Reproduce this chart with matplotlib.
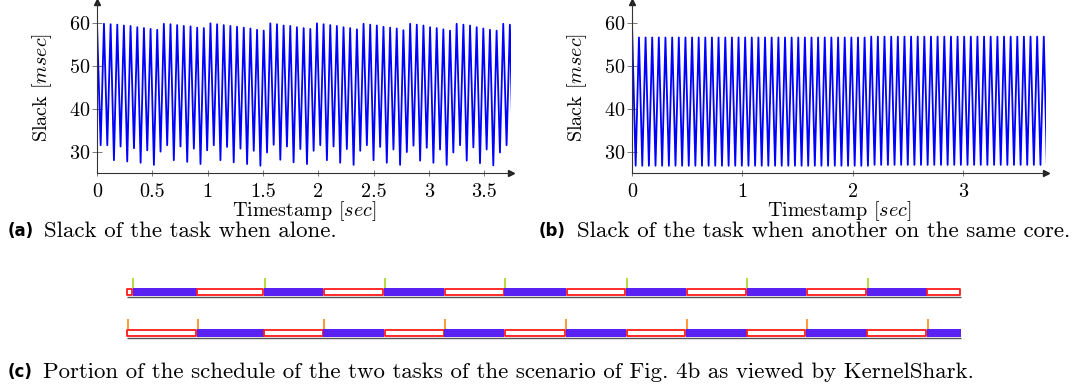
import numpy as np
import matplotlib
matplotlib.use("Agg")
import matplotlib.pyplot as plt

plt.rcParams["font.family"] = "cmr10"
plt.rcParams["mathtext.fontset"] = "cm"
plt.rcParams["axes.formatter.use_mathtext"] = True

W, H = 1073, 391

# Timestamps [sec] of the slack samples (high = job start, low = in between)
t_high = [0.063, 0.123, 0.183, 0.243, 0.303, 0.364, 0.424, 0.484, 0.544, 0.604,
          0.664, 0.724, 0.784, 0.845, 0.905, 0.965, 1.025, 1.085, 1.145, 1.205,
          1.265, 1.326, 1.386, 1.446, 1.506, 1.566, 1.626, 1.686, 1.746, 1.806,
          1.867, 1.927, 1.987, 2.047, 2.107, 2.167, 2.227, 2.287, 2.348, 2.408,
          2.468, 2.528, 2.588, 2.648, 2.708, 2.768, 2.829, 2.889, 2.949, 3.009,
          3.069, 3.129, 3.189, 3.249, 3.310, 3.370, 3.430, 3.490, 3.550, 3.610,
          3.670, 3.730]
t_low = [0.033, 0.093, 0.153, 0.213, 0.273, 0.334, 0.394, 0.454, 0.514, 0.574,
         0.634, 0.694, 0.754, 0.815, 0.875, 0.935, 0.995, 1.055, 1.115, 1.175,
         1.235, 1.296, 1.356, 1.416, 1.476, 1.536, 1.596, 1.656, 1.716, 1.776,
         1.837, 1.897, 1.957, 2.017, 2.077, 2.137, 2.197, 2.257, 2.318, 2.378,
         2.438, 2.498, 2.558, 2.618, 2.678, 2.738, 2.799, 2.859, 2.919, 2.979,
         3.039, 3.099, 3.159, 3.219, 3.280, 3.340, 3.400, 3.460, 3.520, 3.580,
         3.640, 3.700, 3.758]

# (a) task alone [msec]
alone_high = [59.9, 59.8, 59.7, 59.5, 59.4, 59.1, 58.9, 58.7, 58.5,
              59.9, 59.8, 59.6, 59.4, 59.3, 59.0, 58.9,
              60.0, 59.8, 59.6, 59.4, 59.2, 59.0, 58.8, 58.5, 58.3,
              60.0, 59.8, 59.5, 59.4, 59.1, 58.9, 58.7,
              60.0, 59.8, 59.6, 59.4, 59.1, 58.9, 58.6,
              59.9, 59.7, 59.5, 59.2, 59.0, 58.8, 58.4,
              59.9, 59.7, 59.5, 59.1, 58.9, 58.6, 58.3,
              59.9, 59.7, 59.5, 59.1, 58.8, 58.5, 58.3,
              59.9, 59.7]
alone_low = [31.5, 31.5, 28.0, 31.2, 27.7, 30.8, 27.4, 30.3, 26.9,
             30.0, 31.5, 28.0, 31.2, 27.6, 30.7, 27.1,
             30.3, 31.5, 28.0, 31.1, 27.5, 30.7, 27.1, 30.2, 26.7,
             29.8, 31.6, 28.1, 31.2, 27.5, 30.6, 27.1,
             30.2, 31.5, 28.0, 31.2, 27.4, 30.6, 26.9,
             30.2, 31.5, 28.0, 31.1, 27.4, 30.5, 26.9,
             29.9, 31.4, 27.9, 30.9, 27.4, 30.5, 26.9,
             29.8, 31.5, 27.9, 31.0, 27.3, 30.5, 26.8,
             29.8, 31.5, 28.0]

# (b) task sharing the core [msec]
shared_high = [56.7] * 35 + [56.9] * 27
shared_low = [26.7] * 36 + [26.9] * 27

start_t, start_v = 0.0, 60.0


def zigzag(high, low):
    t, v = [start_t], [start_v]
    for i in range(len(t_high)):
        t += [t_low[i], t_high[i]]
        v += [low[i], high[i]]
    t.append(t_low[-1])
    v.append(low[-1])
    return t, v


# (c) KernelShark schedule: segment edges [px] and activation marks [px]
sched_edges = [126.5, 132.5, 196.7, 263.7, 323.3, 384.0, 444.3, 504.3, 566.0,
               626.0, 686.0, 746.7, 806.0, 866.7, 926.7, 960.7]
top_marks = [133, 265, 385, 505, 627, 747, 868]
bottom_marks = [128, 198, 324, 445, 566, 687, 807, 928]

fig = plt.figure(figsize=(W / 100, H / 100), dpi=100)


def slackAxes(left, xmax, xticks, t, v):
    ax = fig.add_axes([left / W, 1 - 173 / H, 414 / W, 171 / H])
    ax.plot(t, v, color="#0000ff", lw=1.3)
    ax.set_xlim(0, xmax)
    ax.set_ylim(25, 65)
    ax.set_xticks(xticks)
    ax.set_xticklabels([f"{x:g}" for x in xticks])
    ax.set_yticks([30, 40, 50, 60])
    for s in ["top", "right"]:
        ax.spines[s].set_visible(False)
    for s in ["left", "bottom"]:
        ax.spines[s].set_color("#333333")
        ax.spines[s].set_linewidth(0.8)
    ax.tick_params(axis="y", direction="inout", length=7, width=0.6, color="#666666", labelsize=14.5, pad=1)
    ax.tick_params(axis="x", direction="inout", length=4, width=0.6, color="#666666", labelsize=14.5, pad=5)
    ax.plot(1, 0, ">", color="#222222", ms=4, transform=ax.transAxes, clip_on=False)
    ax.plot(0, 1, "^", color="#222222", ms=4, transform=ax.transAxes, clip_on=False)
    ax.set_xlabel("Timestamp [$sec$]", fontsize=14.5, labelpad=-1)
    ax.set_ylabel("Slack [$msec$]", fontsize=14.5, labelpad=11)
    return ax


ta, va = zigzag(alone_high, alone_low)
tb, vb = zigzag(shared_high, shared_low)
slackAxes(97, 3.74, [0, 0.5, 1, 1.5, 2, 2.5, 3, 3.5], ta, va)
slackAxes(632, 3.75, [0, 1, 2, 3], tb, vb)

# schedule drawn in pixel coordinates
sax = fig.add_axes([0, 0, 1, 1], zorder=-1)
sax.set_xlim(0, W)
sax.set_ylim(H, 0)
sax.axis("off")

blue = "#5a22f2"


def schedRow(edges, first_box, y, marks, mark_color):
    for i in range(len(edges) - 1):
        x0, x1 = edges[i], edges[i + 1]
        is_box = (i % 2 == 0) == first_box
        if is_box:
            sax.broken_barh([(x0 + 0.7, x1 - x0 - 1.4)], (y + 0.7, 6.2), facecolors="white",
                            edgecolors="#ff1a1a", linewidth=1.3)
        else:
            sax.broken_barh([(x0, x1 - x0)], (y, 7.6), facecolors=blue)
    sax.hlines(y + 8.2, edges[0], edges[-1], color="#555555", lw=1.0)
    sax.vlines(marks, y - 10, y - 0.5, color=mark_color, lw=1.4)


schedRow(sched_edges, True, 288.3, top_marks, "#b3dc3c")
schedRow([sched_edges[0]] + sched_edges[2:], True, 329.3, bottom_marks, "#ff9a33")

# captions
cap_kw = dict(fontsize=16.5, va="center", ha="left")
lab_kw = dict(fontsize=12, va="center", ha="left", fontweight="bold", family="DejaVu Sans")
fig.text(8 / W, 1 - 231 / H, "(a)", **lab_kw)
fig.text(44 / W, 1 - 231 / H, "Slack of the task when alone.", **cap_kw)
fig.text(539 / W, 1 - 231 / H, "(b)", **lab_kw)
fig.text(577 / W, 1 - 231 / H, "Slack of the task when another on the same core.", **cap_kw)
fig.text(8 / W, 1 - 372 / H, "(c)", **lab_kw)
fig.text(43 / W, 1 - 372 / H,
         "Portion of the schedule of the two tasks of the scenario of Fig. 4b as viewed by KernelShark.",
         **cap_kw)

fig.savefig("out.png", dpi=100)
